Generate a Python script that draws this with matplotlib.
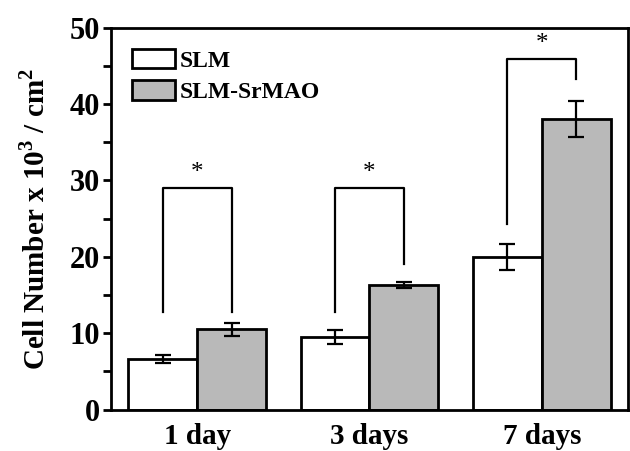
import matplotlib.pyplot as plt
import numpy as np
from matplotlib.ticker import MultipleLocator

plt.rcParams['font.family'] = ['Liberation Serif', 'DejaVu Serif']
plt.rcParams['mathtext.fontset'] = 'custom'
plt.rcParams['mathtext.rm'] = 'Liberation Serif:bold'
plt.rcParams['mathtext.bf'] = 'Liberation Serif:bold'

days = ["1 day", "3 days", "7 days"]
slm = [6.6, 9.5, 19.9]
slm_err = [0.55, 0.9, 1.7]
srmao = [10.5, 16.3, 38.0]
srmao_err = [0.85, 0.4, 2.35]

# significance brackets: top, left leg bottom, right leg bottom
br_top = [29.0, 29.0, 45.9]
br_left = [12.8, 12.8, 24.3]
br_right = [12.8, 19.1, 43.3]

fig = plt.figure(figsize=(6.3, 4.51), dpi=100)
ax = fig.add_axes([0.176, 0.092, 0.821, 0.847])

x = np.arange(len(days))
w = 0.4
ekw = dict(elinewidth=1.6, capthick=1.6, ecolor='black')
ax.bar(x - w / 2, slm, w, yerr=slm_err, color='white', edgecolor='black',
       linewidth=2, capsize=6, error_kw=ekw, label='SLM')
ax.bar(x + w / 2, srmao, w, yerr=srmao_err, color='#b9b9b9', edgecolor='black',
       linewidth=2, capsize=6, error_kw=ekw, label='SLM-SrMAO')

for i in range(len(days)):
    xl, xr = x[i] - w / 2, x[i] + w / 2
    ax.plot([xl, xl, xr, xr], [br_left[i], br_top[i], br_top[i], br_right[i]],
            color='black', lw=1.6)
    ax.text(x[i], br_top[i] + 0.5, '*', ha='center', va='bottom', fontsize=18)

ax.set_xlim(-0.5, 2.5)
ax.set_ylim(0, 50)
ax.set_xticks(x)
ax.set_xticklabels(days, fontsize=21, fontweight='bold')
ax.tick_params(axis='x', length=0, pad=10)
ax.yaxis.set_major_locator(MultipleLocator(10))
ax.yaxis.set_minor_locator(MultipleLocator(5))
ax.tick_params(axis='y', which='both', direction='out', length=6, width=2,
               labelsize=22, right=False, pad=2)
for lab in ax.get_yticklabels():
    lab.set_fontweight('bold')
for s in ax.spines.values():
    s.set_linewidth(2)

ax.set_ylabel(r'Cell Number x 10$^3$ / cm$^2$', fontsize=21, fontweight='bold',
              labelpad=14)

leg = ax.legend(loc='upper left', frameon=False,
                prop={'weight': 'bold', 'size': 17}, handlelength=1.8,
                handleheight=0.9, borderaxespad=0.5, labelspacing=0.35,
                handletextpad=0.2, borderpad=0.4)

plt.savefig('out.png', dpi=100)
